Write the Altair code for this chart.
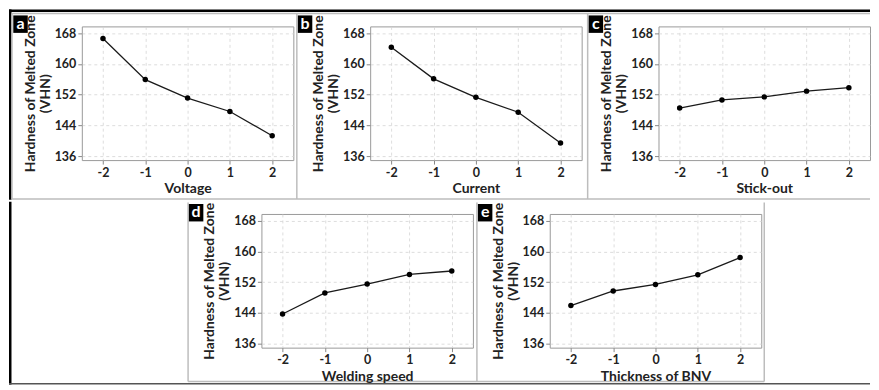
import altair as alt
import pandas as pd

# ---- data ----
levels = [-2, -1, 0, 1, 2]
voltage = [166.6, 155.9, 151.1, 147.6, 141.3]
current = [164.3, 156.1, 151.3, 147.4, 139.4]
stickout = [148.5, 150.6, 151.4, 152.9, 153.8]
speed = [143.7, 149.2, 151.5, 154.0, 154.9]
thickness = [145.9, 149.7, 151.4, 153.9, 158.4]

panel_tags = ["a", "b", "c", "d", "e"]
x_titles = ["Voltage", "Current", "Stick-out", "Welding speed", "Thickness of BNV"]
y_ticks = [136, 144, 152, 160, 168]
y_title = ["Hardness of Melted Zone", "(VHN)"]

W, H = 212, 134
SP = 77
FONT = "Lato"
BOX = "#bdbdbd"
one = pd.DataFrame({"k": [0]})


def rect(x1, x2, y1, y2, color):
    return alt.Chart(one).mark_rect(fill=color, strokeWidth=0).encode(
        x=alt.value(x1), x2=alt.value(x2), y=alt.value(y1), y2=alt.value(y2)
    )


def hline(x1, x2, y, color=BOX, th=1.5):
    return rect(x1, x2, y - th / 2, y + th / 2, color)


def vline(x, y1, y2, color=BOX, th=1.5):
    return rect(x - th / 2, x + th / 2, y1, y2, color)


def tag_marks(tag, tx, ty):
    return [
        rect(tx, tx + 14.5, ty, ty + 17.5, "#000000"),
        alt.Chart(one).mark_text(
            color="#ffffff", font=FONT, fontWeight="bold", fontSize=16,
            align="center", baseline="middle").encode(
            x=alt.value(tx + 7.25), y=alt.value(ty + 8.5), text=alt.value(tag)),
    ]


def panel(tag, xt, vals, tagpos, deco=()):
    df = pd.DataFrame({"level": levels, "hardness": vals})
    base = alt.Chart(df)
    x = alt.X("level:Q", title=xt,
              scale=alt.Scale(domain=[-2.5, 2.5], nice=False, zero=False),
              axis=alt.Axis(values=levels, labelExpr="toString(datum.value)",
                            labelOverlap=False, tickCount=10, titlePadding=3))
    y = alt.Y("hardness:Q", title=y_title,
              scale=alt.Scale(domain=[134.95, 169.75], nice=False, zero=False),
              axis=alt.Axis(values=y_ticks, format="d", labelOverlap=False,
                            tickCount=10, titlePadding=2))
    layers = list(deco)
    layers.append(base.mark_line(color="#1a1a1a", strokeWidth=1.3).encode(x=x, y=y))
    layers.append(base.mark_circle(color="#000000", size=30, opacity=1).encode(
        x="level:Q", y="hardness:Q"))
    layers += tag_marks(tag, *tagpos)
    return alt.layer(*layers).properties(width=W, height=H)


# row-1 decoration (relative to panel a's plot origin; a sits at chart x=73, y=17)
AX, AY = 73, 17
RIGHT = 863
row1_deco = [
    rect(-AX, RIGHT - AX, -AY, -AY + 2.5, "#000000"),          # top black bar
    rect(-AX, -AX + 2.5, -AY, 173.75, "#000000"),              # left black bar
    hline(-70, RIGHT - AX, -13),                                # box tops
    hline(-70, RIGHT - AX, 173),                                # box bottoms
    vline(-70, -13, 173),
    vline(288.5 - AX, -13, 173),
    vline(580 - AX, -13, 173),
]

pa = panel("a", x_titles[0], voltage, (-68.7, -11), row1_deco)
pb = panel("b", x_titles[1], current, (-72.5, -11))
pc = panel("c", x_titles[2], stickout, (-70, -11))
pd_ = panel("d", x_titles[3], speed, (-72.7, -10))
pe = panel("e", x_titles[4], thickness, (-72, -10))

# row-2 spacer: its origin shares panel a's x (chart x=73)
SPW = 180 - SP
spacer_layers = [
    rect(-AX, -AX + 2.5, -12.25, 171, "#000000"),              # left black bar
    rect(-AX, RIGHT - AX, 169.5, 171, "#555555"),              # bottom line
    vline(179.5 - AX, -11.5, 168),
    vline(469 - AX, -11.5, 168),
    vline(757 - AX, -11.5, 168),
    hline(179.5 - AX, 757 - AX, 168),
    alt.Chart(one).mark_point(opacity=0).encode(x=alt.value(0), y=alt.value(0)),
]
spacer = alt.layer(*spacer_layers).properties(
    width=SPW, height=H, view=alt.ViewBackground(strokeOpacity=0))

row1 = alt.hconcat(pa, pb, pc, spacing=SP, bounds="flush")
row2 = alt.hconcat(spacer, pd_, pe, spacing=SP, bounds="flush")

chart = alt.vconcat(row1, row2, spacing=0).properties(
    padding=0, background="#ffffff"
).configure_axis(
    labelFont=FONT, labelFontWeight="bold", labelFontSize=12.5, labelColor="#222222",
    titleFont=FONT, titleFontWeight="bold", titleFontSize=14, titleColor="#222222",
    gridColor="#d4d4d4", gridDash=[3, 3], gridWidth=0.8, domain=False,
    tickColor="#888888", tickSize=4, labelPadding=2, titleLineHeight=15,
    labelOverlap=False
).configure_view(stroke="#9a9a9a", strokeWidth=1)

chart.save("out.html", embed_options={"renderer": "svg", "actions": False})
